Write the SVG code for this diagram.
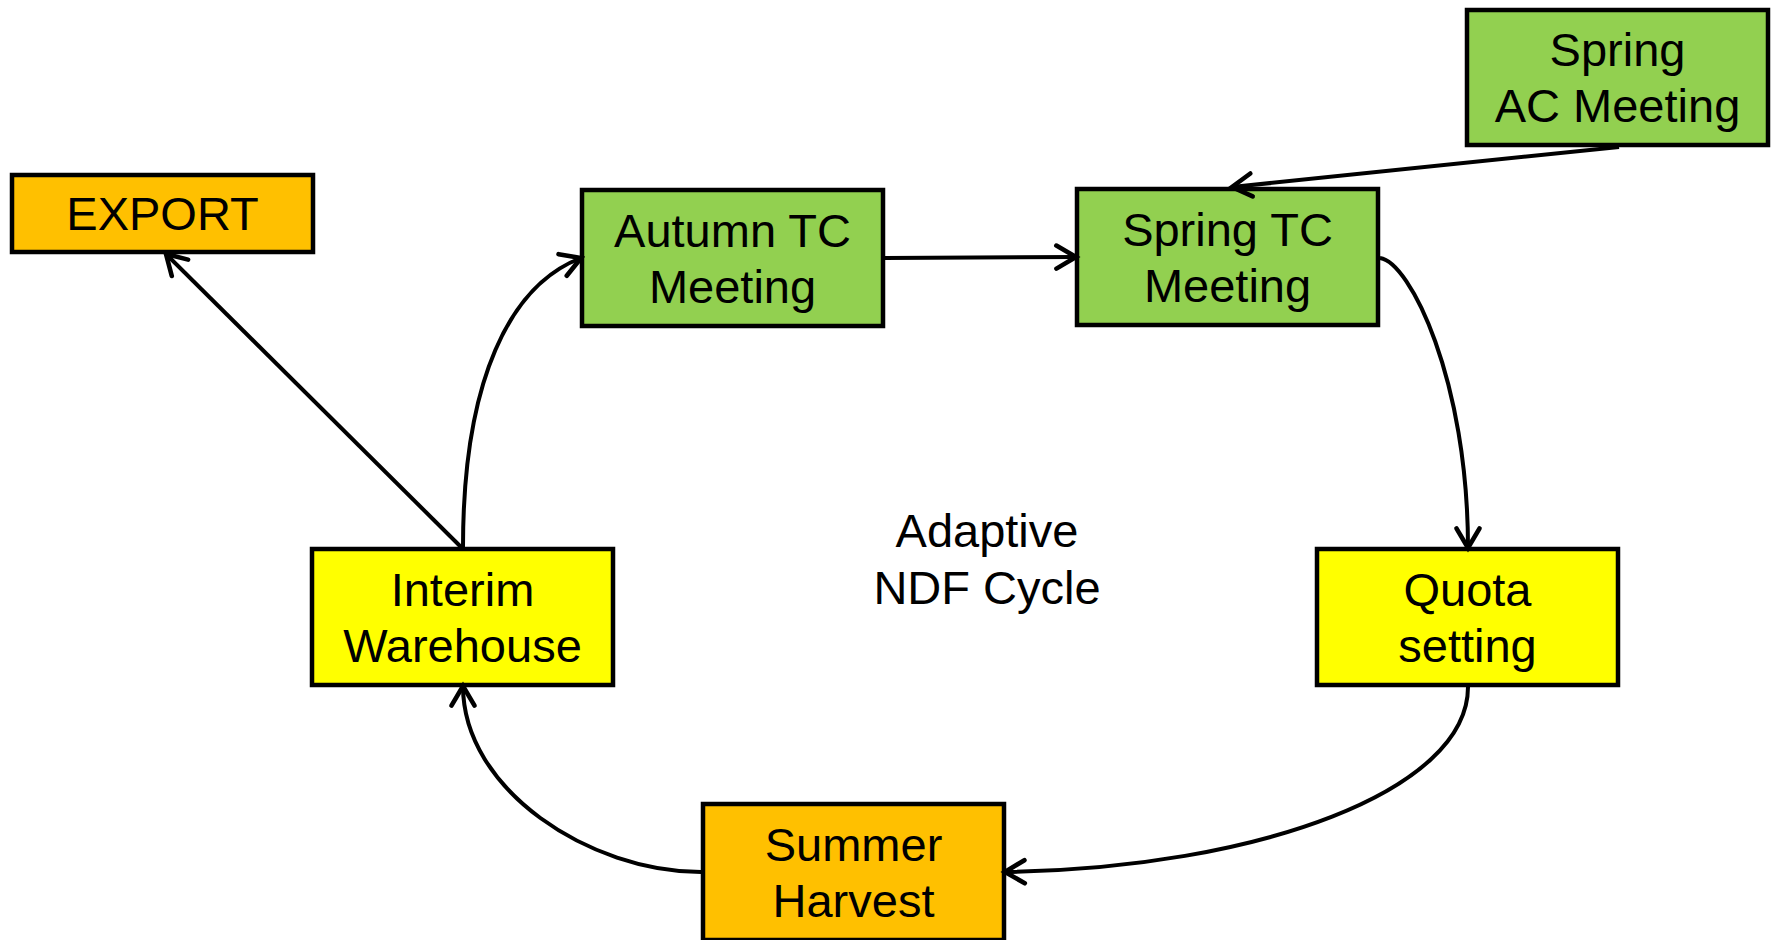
<svg xmlns="http://www.w3.org/2000/svg" width="1775" height="940" viewBox="0 0 1775 940">
<style>
.box{stroke:#000;stroke-width:4.5}
.orange{fill:#FFC000}
.green{fill:#92D050}
.yellow{fill:#FFFF00}
text{font-family:"Liberation Sans",Arial,sans-serif;font-size:47px;fill:#000;text-anchor:middle}
.conn{fill:none;stroke:#000;stroke-width:4;marker-end:url(#arr)}
</style>
<defs>
<marker id="arr" markerUnits="userSpaceOnUse" markerWidth="30" markerHeight="30" viewBox="-22 -12 26 24" refX="0" refY="0" orient="auto">
<path d="M -17 -10 L 0 0 L -17 10" fill="none" stroke="#000" stroke-width="4" stroke-linecap="round" stroke-linejoin="miter"/>
</marker>
</defs>
<rect width="1775" height="940" fill="#fff"/>
<g id="export">
<rect class="box orange" x="12" y="175" width="301" height="77"/>
<text x="162.5" y="230">EXPORT</text>
</g>
<g id="autumn-tc">
<rect class="box green" x="582" y="190" width="301" height="136"/>
<text x="732.5" y="247">Autumn TC</text>
<text x="732.5" y="303">Meeting</text>
</g>
<g id="spring-tc">
<rect class="box green" x="1077" y="189" width="301" height="136"/>
<text x="1227.5" y="246">Spring TC</text>
<text x="1227.5" y="302">Meeting</text>
</g>
<g id="spring-ac">
<rect class="box green" x="1467" y="10" width="301" height="135"/>
<text x="1617.5" y="66">Spring</text>
<text x="1617.5" y="122">AC Meeting</text>
</g>
<g id="interim-warehouse">
<rect class="box yellow" x="312" y="549" width="301" height="136"/>
<text x="462.5" y="606">Interim</text>
<text x="462.5" y="662">Warehouse</text>
</g>
<g id="quota-setting">
<rect class="box yellow" x="1317" y="549" width="301" height="136"/>
<text x="1467.5" y="606">Quota</text>
<text x="1467.5" y="662">setting</text>
</g>
<g id="summer-harvest">
<rect class="box orange" x="703" y="804" width="301" height="136"/>
<text x="853.5" y="861">Summer</text>
<text x="853.5" y="917">Harvest</text>
</g>
<g id="center-label">
<text x="987" y="547">Adaptive</text>
<text x="987" y="604">NDF Cycle</text>
</g>
<g id="connectors">
<path class="conn" d="M 461 547 L 166 254"/>
<path class="conn" d="M 463 547 C 463 380 510 285 581 258"/>
<path class="conn" d="M 885 258 L 1076 257"/>
<path class="conn" d="M 1619 147 L 1232 187"/>
<path class="conn" d="M 1380 258 C 1410 262 1468 380 1468 548"/>
<path class="conn" d="M 1468 687 C 1468 790 1260 868 1005 872"/>
<path class="conn" d="M 701 872 C 590 872 463 790 463 686"/>
</g>
</svg>
